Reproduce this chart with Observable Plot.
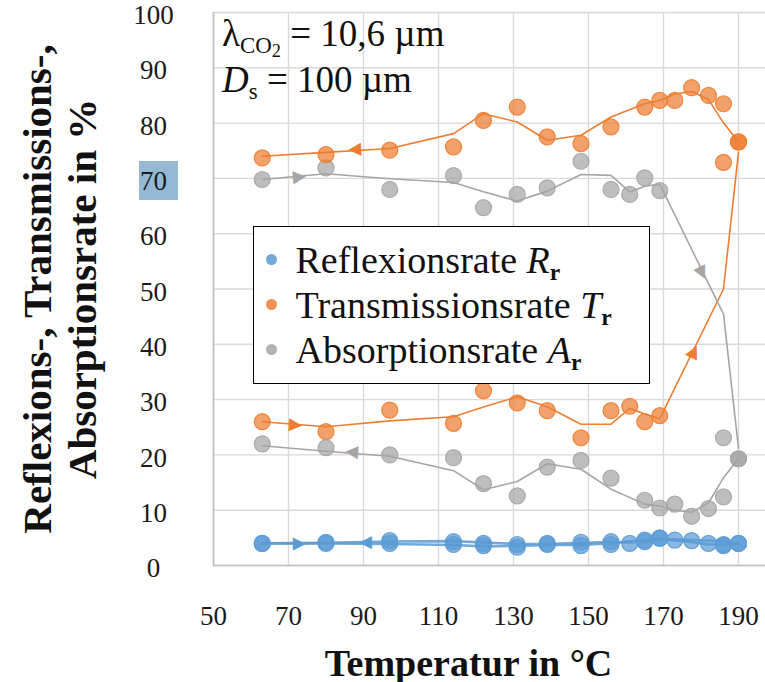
<!DOCTYPE html>
<html><head><meta charset="utf-8">
<script src="https://cdn.jsdelivr.net/npm/d3@7"></script>
<script src="https://cdn.jsdelivr.net/npm/@observablehq/plot@0.6"></script>
<style>
body{margin:0;background:#fff;}
#wrap{position:relative;width:765px;height:682px;overflow:hidden;background:#fff;}
#wrap svg{position:absolute;left:0;top:0;}
.note{position:absolute;left:222px;font-family:"Liberation Serif",serif;font-size:37px;color:#111;white-space:nowrap;line-height:37px;}
.note sub{font-size:0.62em;vertical-align:-0.3em;line-height:0;}
.note sub sub{font-size:0.8em;vertical-align:-0.2em;}
#legend{position:absolute;left:253px;top:226px;width:395px;height:156px;border:1.5px solid #000;background:#fff;font-family:"Liberation Serif",serif;font-size:38px;color:#111;}
.row{position:absolute;left:0;height:45px;display:flex;align-items:center;white-space:nowrap;}
.row sub{font-size:0.62em;vertical-align:-0.3em;line-height:0;font-weight:bold;}
.ldot{width:11px;height:11px;border-radius:50%;margin-left:11.5px;margin-right:19px;opacity:0.85;}
</style></head>
<body><div id="wrap"></div>
<script>
// ---- data ----
const xTicks = [50, 70, 90, 110, 130, 150, 170, 190];
const yTicks = [0, 10, 20, 30, 40, 50, 60, 70, 80, 90, 100];
const highlightedTick = [70];

// heating run (temperature ascending)
const heatTemp = [63, 80, 97, 114, 122, 131, 139, 148, 156, 161, 165, 169, 186, 190];
const heatR = [4.0, 4.2, 4.5, 4.3, 4.0, 3.8, 4.0, 4.2, 4.3, 4.0, 4.6, 5.0, 3.8, 4.0];
const heatT = [26.0, 24.2, 28.1, 25.7, 31.6, 29.4, 28.0, 23.1, 28.0, 28.8, 26.0, 27.1, 72.9, 76.6];
const heatA = [69.8, 71.9, 68.0, 70.5, 64.7, 67.1, 68.3, 73.1, 68.0, 67.1, 70.1, 67.8, 23.1, 19.3];

// cooling run (temperature descending)
const coolTemp = [190, 186, 182, 177.5, 173, 169, 165, 156, 148, 139, 131, 122, 114, 97, 80, 63];
const coolR = [4.0, 3.6, 4.0, 4.5, 4.6, 4.9, 4.3, 3.8, 3.6, 3.8, 3.3, 3.6, 3.8, 4.0, 4.0, 4.0];
const coolT = [76.6, 83.5, 85.0, 86.4, 84.1, 84.1, 82.9, 79.3, 76.3, 77.5, 82.9, 80.5, 75.7, 75.1, 74.3, 73.7];
const coolA = [19.3, 12.4, 10.3, 8.9, 11.1, 10.4, 11.8, 15.8, 19.0, 17.8, 12.6, 14.8, 19.5, 20.0, 21.3, 22.0];

const seriesKeys = ["R", "T", "A"];
const colors = {R: "#5b9bd5", T: "#ed7d31", A: "#a5a5a5"};
const legendLabels = {R: ["Reflexionsrate ", "R", "r"], T: ["Transmissionsrate ", "T", "r"], A: ["Absorptionsrate ", "A", "r"]};

// arrows: which segment of which run, fraction along segment
const arrowSpecs = [
  {key: "T", path: "heat", seg: 1, t: 0.52},
  {key: "T", path: "heat", seg: 12, t: 0.52},
  {key: "T", path: "cool", seg: 14, t: 0.55},
  {key: "A", path: "heat", seg: 1, t: 0.58},
  {key: "A", path: "heat", seg: 12, t: 0.68},
  {key: "A", path: "cool", seg: 14, t: 0.6},
  {key: "R", path: "heat", seg: 1, t: 0.58},
  {key: "R", path: "cool", seg: 14, t: 0.38}
];

const yTitle = "Reflexions-, Transmissions-,\nAbsorptionsrate in %";
const xTitle = "Temperatur in °C";

// ---- layout ----
const W = 765, H = 682, ML = 213, MT = 12, MB = 117;
const X0 = 50, X1 = 50 + (W - ML) / 3.75;

const runs = [
  {key: "R", path: "heat", temp: heatTemp, val: heatR},
  {key: "T", path: "heat", temp: heatTemp, val: heatT},
  {key: "A", path: "heat", temp: heatTemp, val: heatA},
  {key: "R", path: "cool", temp: coolTemp, val: coolR},
  {key: "T", path: "cool", temp: coolTemp, val: coolT},
  {key: "A", path: "cool", temp: coolTemp, val: coolA}
];

// 2-period moving average trend line (as in the source chart)
function movingAvg(v) { return v.map((d, i) => i === 0 ? d : (d + v[i - 1]) / 2); }

const points = runs.flatMap(r => r.temp.map((t, i) => ({key: r.key, path: r.path, t, v: r.val[i]})));
const trend = runs.flatMap(r => {
  const m = movingAvg(r.val);
  return r.temp.map((t, i) => ({key: r.key, path: r.path, id: r.key + r.path, t, v: m[i]}));
});

const xs = d3.scaleLinear([X0, X1], [ML, W]);
const ys = d3.scaleLinear([0, 100], [H - MB, MT]);
const arrows = arrowSpecs.map(a => {
  const seg = trend.filter(d => d.key === a.key && d.path === a.path);
  const p0 = seg[a.seg - 1], p1 = seg[a.seg];
  const x = p0.t + a.t * (p1.t - p0.t), y = p0.v + a.t * (p1.v - p0.v);
  const ang = Math.atan2(ys(p1.v) - ys(p0.v), xs(p1.t) - xs(p0.t)) * 180 / Math.PI;
  return {key: a.key, x, y, angle: ang};
});

const serif = "Liberation Serif, serif";

const plot = Plot.plot({
  width: W, height: H,
  marginLeft: ML, marginRight: 0, marginTop: MT, marginBottom: MB,
  x: {domain: [X0, X1], axis: null},
  y: {domain: [0, 100], axis: null},
  color: {type: "identity"},
  style: {background: "transparent", overflow: "visible"},
  marks: [
    Plot.ruleX(xTicks, {x: d => d, stroke: "#d9d9d9", strokeWidth: 1.4}),
    Plot.ruleY(yTicks, {y: d => d, stroke: "#d9d9d9", strokeWidth: 1.4}),
    Plot.ruleY([0], {y: d => d, stroke: "#bfbfbf", strokeWidth: 1.6}),
    Plot.ruleX([50], {x: d => d, stroke: "#bfbfbf", strokeWidth: 1.6}),
    Plot.dot(points, {x: "t", y: "v", r: 8, fill: d => colors[d.key], fillOpacity: 0.72,
      stroke: d => colors[d.key], strokeOpacity: 0.9, strokeWidth: 1.2}),
    Plot.line(trend.filter(d => d.key !== "R"), {x: "t", y: "v", z: "id", stroke: d => colors[d.key], strokeWidth: 1.6}),
    Plot.line(trend.filter(d => d.key === "R"), {x: "t", y: "v", z: "id", stroke: d => colors[d.key], strokeWidth: 2.6, strokeOpacity: 0.85}),
    Plot.text(arrows, {x: "x", y: "y", text: () => "\u25B6", rotate: "angle", fill: d => colors[d.key],
      fontSize: 17, fontFamily: "DejaVu Sans", textAnchor: "middle", lineAnchor: "middle"}),
    // selection highlight behind the "70" tick label (as in the source screenshot)
    Plot.dot(highlightedTick, {y: d => d, frameAnchor: "left", dx: -55, dy: 2, symbol: "square", r: 22,
      fill: "#95b9d5", stroke: "none"}),
    Plot.text(yTicks, {y: d => d, frameAnchor: "left", dx: -60, dy: 3, text: d => String(d), textAnchor: "middle",
      lineAnchor: "middle", fontSize: 27, fontFamily: serif, fill: "#1a1a1a"}),
    Plot.text(xTicks, {x: d => d, frameAnchor: "bottom", dy: 59, lineAnchor: "bottom", text: d => String(d),
      fontSize: 27, fontFamily: serif, fill: "#1a1a1a"}),
    Plot.text([yTitle], {frameAnchor: "left", dx: -154, rotate: -90, lineHeight: 1.1, lineAnchor: "middle",
      textAnchor: "middle", fontSize: 41, fontWeight: "bold", fontFamily: serif, fill: "#111"}),
    Plot.text([xTitle], {frameAnchor: "bottom", dx: -21, dy: 110, lineAnchor: "bottom", textAnchor: "middle",
      fontSize: 38, fontWeight: "bold", fontFamily: serif, fill: "#111"})
  ]
});

const wrap = document.getElementById("wrap");
wrap.appendChild(plot);

// annotation
const n1 = document.createElement("div");
n1.className = "note"; n1.style.top = "15px";
n1.innerHTML = "λ<sub>CO<sub>2</sub></sub> = 10,6 µm";
const n2 = document.createElement("div");
n2.className = "note"; n2.style.top = "61px";
n2.innerHTML = "<i>D</i><sub>s</sub> = 100 µm";
wrap.appendChild(n1); wrap.appendChild(n2);

// legend
const leg = document.createElement("div");
leg.id = "legend";
seriesKeys.forEach((k, i) => {
  const row = document.createElement("div");
  row.className = "row";
  row.style.top = (10 + i * 45) + "px";
  const [a, b, c] = legendLabels[k];
  row.innerHTML = `<span class="ldot" style="background:${colors[k]}"></span><span>${a}<i>${b}</i><sub>${c}</sub></span>`;
  leg.appendChild(row);
});
wrap.appendChild(leg);
</script></body></html>
